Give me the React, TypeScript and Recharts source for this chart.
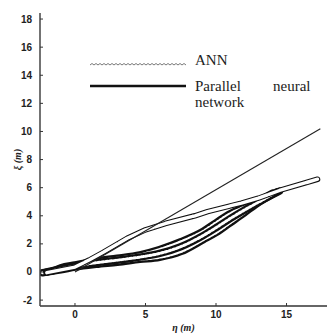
import { LineChart, Line, XAxis, YAxis, Legend, Label } from "recharts"

const xTicks = [0, 5, 10, 15]
const yTicks = [-2, 0, 2, 4, 6, 8, 10, 12, 14, 16, 18]

// straight reference path
const pathX = [0, 17.4]
const pathY = [0, 10.2]

// parallel neural network body (upper tube)
const pnnX = [-2.0, -1.0, 0, 1.0, 2.0, 3.7, 5.0, 6.4, 8.5, 9.4, 11.8, 13.0, 14.5, 17.2]
const pnnY = [-0.05, 0.15, 0.35, 0.85, 1.4, 2.4, 3.0, 3.45, 4.0, 4.3, 4.9, 5.25, 5.8, 6.6]

// ANN body, lower edge, middle and upper edge of the dense band
const annLowX = [-2.3, -1.0, 0, 1.5, 3.0, 4.6, 6.0, 7.5, 9.1, 10.0, 11.0, 12.0, 12.8, 14.5]
const annLowY = [-0.05, 0.15, 0.35, 0.55, 0.7, 0.9, 1.05, 1.45, 2.3, 2.8, 3.5, 4.2, 4.8, 5.75]
const annMidX = [-2.0, -1.0, 0, 1.5, 3.0, 4.6, 6.0, 7.5, 9.1, 10.0, 11.0, 12.0, 12.8, 14.3]
const annMidY = [0.0, 0.22, 0.42, 0.66, 0.84, 1.06, 1.32, 1.8, 2.6, 3.15, 3.8, 4.4, 4.85, 5.7]
const annHighX = [-1.5, -1.0, 0, 1.5, 3.0, 4.6, 6.0, 7.5, 9.1, 10.0, 11.0, 12.0, 12.8, 14.0]
const annHighY = [0.1, 0.3, 0.5, 0.78, 0.98, 1.22, 1.6, 2.15, 2.9, 3.5, 4.15, 4.6, 4.95, 5.6]

const zip = (xs: number[], ys: number[]) => xs.map((x, i) => ({ x, y: ys[i] }))

const pathData = zip(pathX, pathY)
const pnnData = zip(pnnX, pnnY)
const annLowData = zip(annLowX, annLowY)
const annMidData = zip(annMidX, annMidY)
const annHighData = zip(annHighX, annHighY)

const tickFont = { fontFamily: "Liberation Sans, Arial, sans-serif", fontSize: 10, fontWeight: 700, fill: "#222" }
const serif = { fontFamily: "'Liberation Serif', 'DejaVu Serif', serif", fontSize: 15, fill: "#222" }

const YTick = ({ x, y, payload }: any) => (
  <g>
    <line x1={x + 7} x2={x + 10} y1={y} y2={y} stroke="#333" strokeWidth={1} />
    <text x={x - 1} y={y} dy={3.5} textAnchor="end" style={tickFont}>
      {payload.value}
    </text>
  </g>
)

const XTick = ({ x, y, payload }: any) => (
  <g>
    <line x1={x} x2={x} y1={y - 6} y2={y - 9} stroke="#333" strokeWidth={1} />
    <text x={x} y={y} dy={6} textAnchor="middle" style={tickFont}>
      {payload.value}
    </text>
  </g>
)

const wave = "M2 13" + " l2 -1.5 l2 1.5".repeat(24)

const LegendBox = () => (
  <svg width={240} height={62}>
    <path d={wave} fill="none" stroke="#777" strokeWidth={1} />
    <line x1={2} x2={98} y1={34} y2={34} stroke="#111" strokeWidth={2.5} />
    <text x={107} y={13} style={serif}>ANN</text>
    <text x={107} y={39} style={serif}>Parallel</text>
    <text x={185} y={39} style={serif}>neural</text>
    <text x={107} y={55} style={serif}>network</text>
  </svg>
)

const tube = (data: any[], key: string, outer: number, inner: number, dash?: string, type: any = "linear") => [
  <Line
    key={key + "-o"}
    data={data}
    dataKey="y"
    type={type}
    stroke="#111"
    strokeWidth={outer}
    strokeLinecap="round"
    strokeLinejoin="round"
    dot={false}
    isAnimationActive={false}
    legendType="none"
  />,
  <Line
    key={key + "-i"}
    data={data}
    dataKey="y"
    type={type}
    stroke="#fff"
    strokeWidth={inner}
    strokeDasharray={dash}
    strokeLinecap="round"
    strokeLinejoin="round"
    dot={false}
    isAnimationActive={false}
    legendType="none"
  />,
]

export default function App() {
  return (
    <div style={{ position: "absolute", left: 0, top: 0, background: "#fff" }}>
      <LineChart width={327} height={334} margin={{ top: 13, right: 0, left: 10, bottom: 0 }}>
        <XAxis
          dataKey="x"
          type="number"
          domain={[-2.48, 17.87]}
          ticks={xTicks}
          allowDataOverflow
          height={28}
          tickSize={0}
          tickMargin={6}
          tickLine={false}
          tick={<XTick />}
          axisLine={{ stroke: "#333", strokeWidth: 1.5 }}
        >
          <Label
            value="η (m)"
            position="insideBottom"
            offset={3}
            style={{ fontFamily: "Liberation Serif, serif", fontStyle: "italic", fontWeight: 700, fontSize: 10, fill: "#222" }}
          />
        </XAxis>
        <XAxis
          xAxisId="top"
          orientation="top"
          dataKey="x"
          type="number"
          domain={[-2.48, 17.87]}
          ticks={xTicks}
          height={0}
          tick={false}
          tickLine={false}
          axisLine={{ stroke: "#222", strokeWidth: 2 }}
        />
        <YAxis
          type="number"
          domain={[-2.42, 18.43]}
          ticks={yTicks}
          allowDataOverflow
          width={30}
          tickSize={0}
          tickMargin={7}
          tickLine={false}
          tick={<YTick />}
          axisLine={{ stroke: "#444", strokeWidth: 1.5 }}
        >
          <Label
            value="ξ (m)"
            angle={-90}
            position="insideLeft"
            offset={7}
            style={{ fontFamily: "Liberation Serif, serif", fontStyle: "italic", fontWeight: 700, fontSize: 10, fill: "#222", textAnchor: "middle" }}
          />
        </YAxis>
        <Legend
          layout="horizontal"
          verticalAlign="middle"
          content={<LegendBox />}
          wrapperStyle={{ left: 88, top: 52, width: 240 }}
        />
        {tube(annLowData, "annLow", 7.5, 3, "2 1.5", "monotone")}
        {tube(annHighData, "annHigh", 7.5, 3, "2 1.5", "monotone")}
        {tube(annMidData, "annMid", 7.5, 3, "2 2", "monotone")}
        {tube(pnnData, "pnn", 5.5, 3.4, "38 1.5")}
        <Line
          data={pathData}
          dataKey="y"
          type="linear"
          stroke="#222"
          strokeWidth={1.1}
          dot={false}
          isAnimationActive={false}
          legendType="none"
        />
      </LineChart>
    </div>
  )
}
